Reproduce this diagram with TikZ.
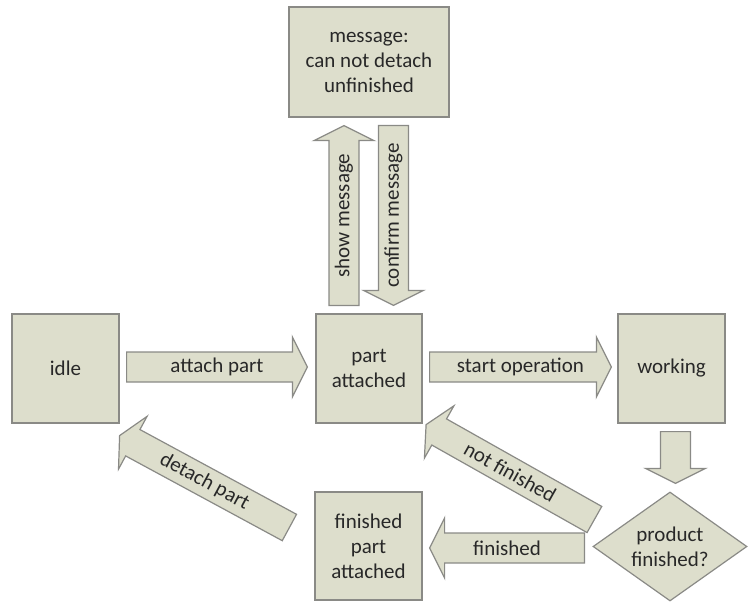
\documentclass[tikz,border=0pt]{standalone}
\usepackage{fontspec}
\setmainfont{Carlito}
\usetikzlibrary{calc,shapes.geometric}

\definecolor{boxfill}{RGB}{221,222,204}
\definecolor{boxline}{RGB}{138,138,134}
\definecolor{ink}{RGB}{40,40,40}

\tikzset{
  state/.style={draw=boxline, fill=boxfill, line width=1.2pt, inner sep=0pt,
    minimum width=107pt, minimum height=109pt, align=center, text=ink,
    font=\fontsize{21}{25}\selectfont},
  decision/.style={state, diamond, minimum width=154pt, minimum height=109pt},
  plaintext/.style={inner sep=0pt, align=center, text=ink,
    font=\fontsize{21}{25}\selectfont},
  fatarrow/.style={draw=boxline, fill=boxfill, line width=1.2pt, line join=miter},
  arrowlabel/.style={plaintext}
}

% Block arrow from #2 to #3 (shaft 30, head 60 wide, head 15 long),
% labelled #4 along its axis; the label node is named #1.
\newcommand\fatarrow[4]{%
  \draw[fatarrow] let \p1=($(#3)-(#2)$), \n1={atan2(\y1,\x1)},
      \n2={\n1>90 ? \n1-180 : (\n1<-89 ? \n1+180 : \n1)} in
    ($(#2)+(\n1+90:15pt)$)
    -- ($(#3)+(\n1+180:15pt)+(\n1+90:15pt)$)
    -- ($(#3)+(\n1+180:15pt)+(\n1+90:30pt)$)
    -- (#3)
    -- ($(#3)+(\n1+180:15pt)+(\n1-90:30pt)$)
    -- ($(#3)+(\n1+180:15pt)+(\n1-90:15pt)$)
    -- ($(#2)+(\n1-90:15pt)$) -- cycle
    ($(#2)!0.5!(#3)$) node[arrowlabel, rotate=\n2] (#1) {#4};
}

\begin{document}
\begin{tikzpicture}[x=1pt, y=-1pt]
  \useasboundingbox (0,0) rectangle (748,602);

  % states
  \node[state] (idle)    at (65.5,368.5) {idle};
  \node[state, minimum width=106pt] (part) at (369,368.5) {part\\attached};
  \node[state] (working) at (671.5,368.5) {working};
  \node[state, minimum height=108pt] (fpa) at (368.5,546) {finished\\part\\attached};
  \node[state, minimum width=160pt, minimum height=110pt] (msg) at (369,62)
       {message:\\can not detach\\unfinished};
  \node[decision] (dec) at (670,546.5) {};
  \node[plaintext] (dec-text) at (dec.center) {product\\finished?};

  % arrow end points
  \coordinate (attach-from)  at ($(idle.east)+(7,-1.5)$);
  \coordinate (attach-to)    at ($(part.west)+(-8,-1.5)$);
  \coordinate (start-from)   at ($(part.east)+(7,-1.5)$);
  \coordinate (start-to)     at ($(working.west)+(-6,-1.5)$);
  \coordinate (show-from)    at ($(part.north)+(-25,-8)$);
  \coordinate (show-to)      at ($(msg.south)+(-25,8)$);
  \coordinate (confirm-from) at ($(msg.south)+(24.5,8)$);
  \coordinate (confirm-to)   at ($(part.north)+(24.5,-8)$);
  \coordinate (check-from)   at ($(working.south)+(4,8)$);
  \coordinate (check-to)     at ($(dec.north)+(5.5,-8)$);
  \coordinate (fin-from)     at ($(dec.west)+(-8,1.5)$);
  \coordinate (fin-to)       at ($(fpa.east)+(7,2)$);
  \coordinate (notfin-from)  at ($(dec.west)+(2,-27)$);
  \coordinate (notfin-to)    at ($(part.south east)+(3.5,1)$);
  \coordinate (detach-from)  at ($(fpa.west)+(-25,-18.5)$);
  \coordinate (detach-to)    at ($(idle.south east)+(0,12)$);

  % transitions
  \fatarrow{attach-lbl}{attach-from}{attach-to}{attach part}
  \fatarrow{start-lbl}{start-from}{start-to}{start operation}
  \fatarrow{show-lbl}{show-from}{show-to}{show message}
  \fatarrow{confirm-lbl}{confirm-from}{confirm-to}{confirm message}
  \fatarrow{check-lbl}{check-from}{check-to}{}
  \fatarrow{fin-lbl}{fin-from}{fin-to}{finished}
  \fatarrow{notfin-lbl}{notfin-from}{notfin-to}{not finished}
  \fatarrow{detach-lbl}{detach-from}{detach-to}{detach part}
\end{tikzpicture}
\end{document}
